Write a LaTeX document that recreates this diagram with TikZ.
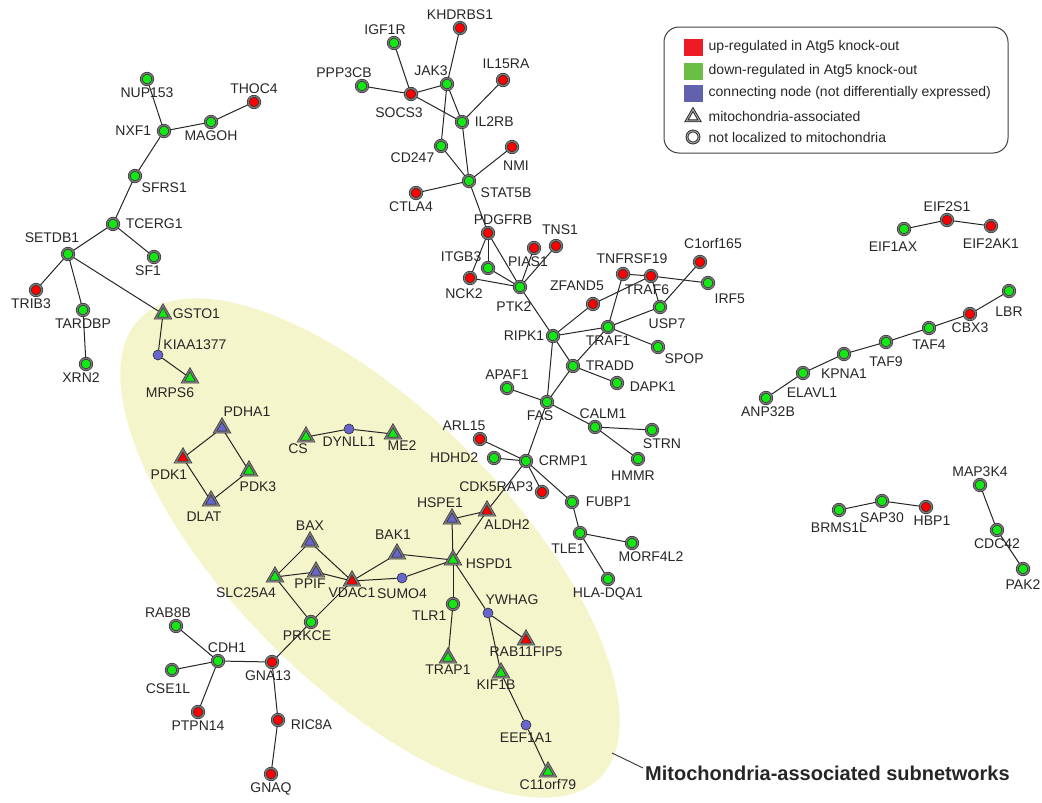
\documentclass[tikz,border=0pt]{standalone}
\usepackage{fontspec}
\setmainfont{Liberation Sans}
\usetikzlibrary{shapes.geometric}

\definecolor{upred}{RGB}{250,0,0}
\definecolor{dngreen}{RGB}{20,232,20}
\definecolor{conblue}{RGB}{102,102,204}
\definecolor{ringgray}{RGB}{120,120,120}
\definecolor{rimdark}{RGB}{45,45,45}
\definecolor{mitoyellow}{RGB}{245,245,204}
\definecolor{legred}{RGB}{237,28,36}
\definecolor{leggreen}{RGB}{106,190,69}
\definecolor{legblue}{RGB}{97,97,174}

\pgfdeclarelayer{back}
\pgfdeclarelayer{links}
\pgfsetlayers{back,links,main}

\begin{document}
\begin{tikzpicture}[x=1pt, y=-1pt,
	gene/.style={circle, inner sep=0pt, minimum size=11.5pt, draw=rimdark, line width=0.6pt, double=ringgray, double distance=1.5pt},
	up/.style={gene, fill=upred},
	dn/.style={gene, fill=dngreen},
	con/.style={circle, inner sep=0pt, minimum size=10pt, draw=rimdark, line width=0.6pt, fill=conblue},
	mito/.style={regular polygon, regular polygon sides=3, inner sep=0pt, minimum size=16.5pt, draw=rimdark, line width=0.6pt, double=ringgray, double distance=1.5pt},
	upm/.style={mito, fill=upred},
	dnm/.style={mito, fill=dngreen},
	conm/.style={mito, fill=conblue},
	lbl/.style={font=\fontsize{14}{16}\selectfont, text=black!85, inner sep=1.5pt},
	every label/.style={lbl},
	label distance=1pt,
	far/.style={label distance=5pt},
	ppi/.style={draw=black!85, line width=1pt},
	legsq/.style={rectangle, inner sep=0pt, minimum width=19pt, minimum height=17pt},
	legtxt/.style={lbl, anchor=west}]
	\useasboundingbox (0,0) rectangle (1042,803);

	%% Mitochondria-associated region
	\begin{pgfonlayer}{back}
		\fill [mitoyellow, rotate around={-45:(370,548)}] (370,548) ellipse [x radius=325pt, y radius=138pt];
	\end{pgfonlayer}

	%% Splicing / chromatin cluster
	\node [dn, label=below:NUP153] (nup153) at (147,79) {};
	\node [up, label=above:THOC4] (thoc4) at (254,102) {};
	\node [dn, label=below:MAGOH] (magoh) at (211,122) {};
	\node [dn, label={[far]left:NXF1}] (nxf1) at (164,131) {};
	\node [dn, label=below right:SFRS1] (sfrs1) at (135,176) {};
	\node [dn, label={[far]right:TCERG1}] (tcerg1) at (113,224) {};
	\node [dn, label={[xshift=-16pt, yshift=3pt]above:SETDB1}] (setdb1) at (68,254) {};
	\node [dn, label={[xshift=-6pt]below:SF1}] (sf1) at (154,257) {};
	\node [up, label={[xshift=-5pt]below:TRIB3}] (trib3) at (36,290) {};
	\node [dn, label=below:TARDBP] (tardbp) at (83,310) {};
	\node [dn, label={[xshift=-5pt]below:XRN2}] (xrn2) at (86,364) {};
	\node [dnm, label={[label distance=3pt]right:GSTO1}] (gsto1) at (163,314) {};
	\node [con, label={[label distance=0pt]above right:KIAA1377}] (kiaa1377) at (158,355) {};
	\node [dnm, label={[xshift=-20pt, yshift=-3pt]below:MRPS6}] (mrps6) at (190,378) {};

	%% JAK/STAT cluster
	\node [up, label=above:KHDRBS1] (khdrbs1) at (460,28) {};
	\node [dn, label={[xshift=-9pt]above:IGF1R}] (igf1r) at (394,43) {};
	\node [dn, label={[xshift=-18pt]above:PPP3CB}] (ppp3cb) at (362,86) {};
	\node [up, label={[xshift=-12pt, yshift=-5pt]below:SOCS3}] (socs3) at (411,94) {};
	\node [dn, label={[xshift=-16pt]above:JAK3}] (jak3) at (447,84) {};
	\node [up, label={[xshift=3pt, yshift=3pt]above:IL15RA}] (il15ra) at (503,80) {};
	\node [dn, label={[far]right:IL2RB}] (il2rb) at (462,122) {};
	\node [dn, label=below left:CD247] (cd247) at (441,146) {};
	\node [up, label={[xshift=4pt, yshift=-5pt]below:NMI}] (nmi) at (512,147) {};
	\node [dn, label={[xshift=5pt]below right:STAT5B}] (stat5b) at (469,181) {};
	\node [up, label={[xshift=-5pt]below:CTLA4}] (ctla4) at (416,193) {};

	%% PTK2 / RIPK1 / FAS cluster
	\node [up, label={[xshift=15pt]above:PDGFRB}] (pdgfrb) at (488,233) {};
	\node [up, label={[xshift=4pt, yshift=3pt]above:TNS1}] (tns1) at (556,246) {};
	\node [up, label={[xshift=-6pt]below:PIAS1}] (pias1) at (534,248) {};
	\node [dn, label=above left:ITGB3] (itgb3) at (488,268) {};
	\node [up, label={[xshift=-6pt, yshift=-2pt]below:NCK2}] (nck2) at (470,278) {};
	\node [dn, label={[xshift=-6pt, yshift=-6pt]below:PTK2}] (ptk2) at (520,287) {};
	\node [up, label={[xshift=-16pt, yshift=5pt]above:ZFAND5}] (zfand5) at (593,304) {};
	\node [up, label={[xshift=9pt, yshift=2pt]above:TNFRSF19}] (tnfrsf19) at (623,274) {};
	\node [up, label={[xshift=-4pt]below:TRAF6}] (traf6) at (651,276) {};
	\node [up, label={[xshift=13pt, yshift=5pt]above:C1orf165}] (c1orf165) at (700,262) {};
	\node [dn, label={[yshift=-4pt]below right:IRF5}] (irf5) at (708,283) {};
	\node [dn, label={[xshift=7pt, yshift=-3pt]below:USP7}] (usp7) at (660,307) {};
	\node [dn, label=below:TRAF1] (traf1) at (608,327) {};
	\node [dn, label=left:RIPK1] (ripk1) at (553,336) {};
	\node [dn, label=below right:SPOP] (spop) at (658,347) {};
	\node [dn, label={[far]right:TRADD}] (tradd) at (573,366) {};
	\node [dn, label={[far, yshift=-4pt]right:DAPK1}] (dapk1) at (617,383) {};
	\node [dn, label=above:APAF1] (apaf1) at (507,388) {};
	\node [dn, label={[xshift=-7pt]below:FAS}] (fas) at (547,402) {};
	\node [dn, label={[xshift=8pt]above:CALM1}] (calm1) at (595,427) {};
	\node [dn, label={[xshift=10pt]below:STRN}] (strn) at (652,430) {};
	\node [dn, label={[xshift=-5pt, yshift=-3pt]below:HMMR}] (hmmr) at (638,459) {};
	\node [up, label={[xshift=-16pt]above:ARL15}] (arl15) at (480,439) {};
	\node [dn, label={[label distance=8pt]left:HDHD2}] (hdhd2) at (494,458) {};
	\node [dn, label={[far]right:CRMP1}] (crmp1) at (526,461) {};
	\node [up, label={[yshift=5pt]left:CDK5RAP3}] (cdk5rap3) at (542,492) {};
	\node [dn, label={[label distance=6pt]right:FUBP1}] (fubp1) at (572,502) {};
	\node [dn, label={[xshift=-12pt, yshift=-2pt]below:TLE1}] (tle1) at (580,533) {};
	\node [dn, label={[xshift=19pt]below:MORF4L2}] (morf4l2) at (632,543) {};
	\node [dn, label=below:HLA-DQA1] (hladqa1) at (608,579) {};

	%% Mitochondria-associated subnetworks
	\node [conm, label={[xshift=-12pt]above:HSPE1}] (hspe1) at (452,519) {};
	\node [upm, label={[xshift=20pt, yshift=-2pt]below:ALDH2}] (aldh2) at (487,511) {};
	\node [dnm, label={[label distance=6pt, yshift=-4pt]right:HSPD1}] (hspd1) at (453,560) {};
	\node [conm, label={[xshift=25pt]above:PDHA1}] (pdha1) at (222,428) {};
	\node [upm, label={[xshift=-14pt, yshift=-5pt]below:PDK1}] (pdk1) at (183,458) {};
	\node [dnm, label={[xshift=9pt, yshift=-4pt]below:PDK3}] (pdk3) at (249,471) {};
	\node [conm, label={[xshift=-7pt, yshift=-4pt]below:DLAT}] (dlat) at (211,501) {};
	\node [dnm, label={[xshift=-8pt]below:CS}] (cs) at (306,437) {};
	\node [con, label=below:DYNLL1] (dynll1) at (349,429) {};
	\node [dnm, label={[xshift=9pt]below:ME2}] (me2) at (393,434) {};
	\node [conm, label=above:BAX] (bax) at (310,542) {};
	\node [conm, label={[xshift=-4pt, yshift=3pt]above:BAK1}] (bak1) at (397,554) {};
	\node [dnm, label={[xshift=-29pt, yshift=-4pt]below:SLC25A4}] (slc25a4) at (275,577) {};
	\node [conm, label={[xshift=-6pt]below:PPIF}] (ppif) at (316,572) {};
	\node [upm, label=below:VDAC1] (vdac1) at (352,581) {};
	\node [con, label={[yshift=-3pt]below:SUMO4}] (sumo4) at (402,578) {};
	\node [dn, label={[xshift=-4pt]below:PRKCE}] (prkce) at (311,622) {};
	\node [dn, label=below left:TLR1] (tlr1) at (453,604) {};
	\node [con, label={[xshift=24pt]above:YWHAG}] (ywhag) at (488,613) {};
	\node [upm, label=below:RAB11FIP5] (rab11fip5) at (526,640) {};
	\node [dnm, label=below:TRAP1] (trap1) at (448,658) {};
	\node [dnm, label={[xshift=-5pt]below:KIF1B}] (kif1b) at (501,673) {};
	\node [con, label=below:EEF1A1] (eef1a1) at (526,725) {};
	\node [dnm, label=below:C11orf79] (c11orf79) at (548,772) {};

	%% CDH1 / GNA13 cluster
	\node [dn, label={[xshift=-8pt]above:RAB8B}] (rab8b) at (176,626) {};
	\node [dn, label={[xshift=9pt]above:CDH1}] (cdh1) at (218,661) {};
	\node [dn, label={[xshift=-4pt, yshift=-5pt]below:CSE1L}] (cse1l) at (172,670) {};
	\node [up, label={[xshift=-4pt]below:GNA13}] (gna13) at (272,662) {};
	\node [up, label=below:PTPN14] (ptpn14) at (198,712) {};
	\node [up, label={[far, yshift=-5pt]right:RIC8A}] (ric8a) at (278,720) {};
	\node [up, label=below:GNAQ] (gnaq) at (271,774) {};

	%% Small subnetworks on the right
	\node [up, label=above:EIF2S1] (eif2s1) at (947,220) {};
	\node [dn, label={[xshift=-11pt, yshift=-4pt]below:EIF1AX}] (eif1ax) at (904,229) {};
	\node [up, label={[yshift=-4pt]below:EIF2AK1}] (eif2ak1) at (991,226) {};
	\node [dn, label={[yshift=-7pt]below:LBR}] (lbr) at (1009,291) {};
	\node [up, label=below:CBX3] (cbx3) at (970,314) {};
	\node [dn, label={[yshift=-3pt]below:TAF4}] (taf4) at (929,328) {};
	\node [dn, label={[yshift=-6pt]below:TAF9}] (taf9) at (886,342) {};
	\node [dn, label={[yshift=-6pt]below:KPNA1}] (kpna1) at (844,354) {};
	\node [dn, label={[xshift=9pt, yshift=-6pt]below:ELAVL1}] (elavl1) at (803,373) {};
	\node [dn, label={[xshift=2pt]below:ANP32B}] (anp32b) at (766,398) {};
	\node [dn, label=above:MAP3K4] (map3k4) at (980,485) {};
	\node [dn, label=below:CDC42] (cdc42) at (997,530) {};
	\node [dn, label={[yshift=-2pt]below:PAK2}] (pak2) at (1023,569) {};
	\node [dn, label={[yshift=-4pt]below:BRMS1L}] (brms1l) at (839,510) {};
	\node [dn, label={[yshift=-3pt]below:SAP30}] (sap30) at (882,501) {};
	\node [up, label={[xshift=6pt]below:HBP1}] (hbp1) at (926,507) {};

	%% Interactions
	\begin{pgfonlayer}{links}
		\foreach \a/\b in {nup153/nxf1, nxf1/magoh, magoh/thoc4, nxf1/sfrs1, sfrs1/tcerg1,
			tcerg1/setdb1, tcerg1/sf1, setdb1/trib3, setdb1/tardbp, tardbp/xrn2,
			setdb1/gsto1, gsto1/kiaa1377, kiaa1377/mrps6,
			khdrbs1/jak3, igf1r/socs3, ppp3cb/socs3, socs3/jak3, socs3/il2rb,
			jak3/il2rb, jak3/cd247, il15ra/il2rb, il2rb/stat5b, cd247/stat5b,
			nmi/stat5b, ctla4/stat5b, stat5b/pdgfrb,
			pdgfrb/nck2, pdgfrb/itgb3, pdgfrb/ptk2, itgb3/ptk2, nck2/ptk2,
			pias1/ptk2, tns1/ptk2, ptk2/ripk1, ripk1/zfand5, zfand5/traf6,
			tnfrsf19/traf6, traf6/irf5, tnfrsf19/traf1, traf6/usp7, c1orf165/usp7,
			usp7/traf1, ripk1/traf1, traf1/spop, traf1/tradd, ripk1/tradd,
			tradd/dapk1, ripk1/fas, tradd/fas, apaf1/fas, fas/calm1, calm1/strn,
			calm1/hmmr, fas/crmp1, arl15/crmp1, hdhd2/crmp1, crmp1/cdk5rap3,
			crmp1/fubp1, fubp1/tle1, tle1/morf4l2, tle1/hladqa1,
			crmp1/aldh2, aldh2/hspd1, hspe1/aldh2, hspe1/hspd1,
			pdha1/pdk1, pdha1/pdk3, pdk1/dlat, pdk3/dlat, cs/dynll1, dynll1/me2,
			bax/slc25a4, bax/vdac1, slc25a4/ppif, ppif/vdac1, bak1/vdac1,
			bak1/hspd1, vdac1/sumo4, sumo4/hspd1, slc25a4/prkce, vdac1/prkce,
			prkce/gna13, rab8b/cdh1, cse1l/cdh1, cdh1/ptpn14, cdh1/gna13,
			gna13/ric8a, ric8a/gnaq, hspd1/tlr1, tlr1/trap1, hspd1/ywhag,
			ywhag/rab11fip5, ywhag/kif1b, kif1b/eef1a1, eef1a1/c11orf79,
			eif1ax/eif2s1, eif2s1/eif2ak1, lbr/cbx3, cbx3/taf4, taf4/taf9,
			taf9/kpna1, kpna1/elavl1, elavl1/anp32b, map3k4/cdc42, cdc42/pak2,
			brms1l/sap30, sap30/hbp1}
			\draw [ppi] (\a) -- (\b);
	\end{pgfonlayer}

	%% Legend
	\draw [rounded corners=15pt, line width=1pt, draw=black!75] (664,27) rectangle (1008,153);
	\node [legsq, fill=legred] (kup) at (693,47) {};
	\node [legsq, fill=leggreen] (kdn) at (693,71) {};
	\node [legsq, fill=legblue] (kcon) at (693,93) {};
	\node [regular polygon, regular polygon sides=3, inner sep=0pt, minimum size=15pt, draw=black!85, line width=0.9pt, double=black!35, double distance=1pt, fill=white] (kmito) at (693,117) {};
	\node [circle, inner sep=0pt, minimum size=12pt, draw=black!85, line width=0.9pt, double=black!35, double distance=1pt, fill=white] (kloc) at (693,137) {};
	\node [legtxt] (tup) at (707,47) {up-regulated in Atg5 knock-out};
	\node [legtxt] (tdn) at (707,71) {down-regulated in Atg5 knock-out};
	\node [legtxt] (tcon) at (707,93) {connecting node (not differentially expressed)};
	\node [legtxt] (tmito) at (707,116) {mitochondria-associated};
	\node [legtxt] (tloc) at (707,137) {not localized to mitochondria};

	%% Callout
	\coordinate (mitoedge) at (612,753);
	\node [anchor=west, inner sep=2pt, text=black!85, font=\fontsize{20}{22}\selectfont\bfseries] (mitolabel) at (643,773) {Mitochondria-associated subnetworks};
	\draw [line width=0.9pt, black!80] (mitoedge) -- ([yshift=5pt]mitolabel.west);
\end{tikzpicture}
\end{document}
